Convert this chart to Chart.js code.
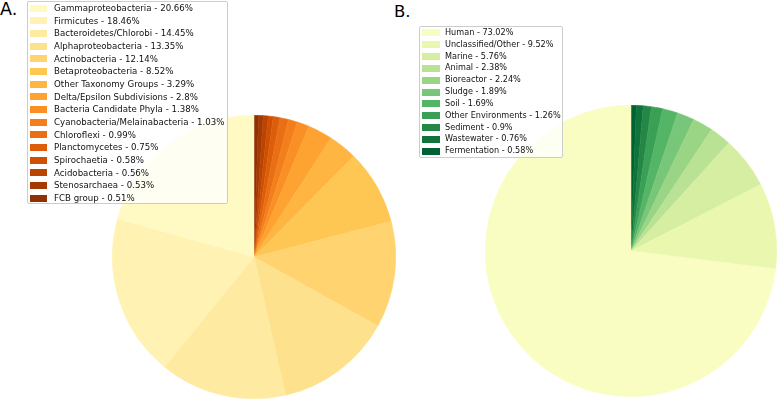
<!DOCTYPE html>
<html>
<head>
<meta charset="utf-8">
<script src="https://cdn.jsdelivr.net/npm/chart.js@4/dist/chart.umd.min.js"></script>
<style>
  html, body { margin: 0; padding: 0; background: #fff; }
  body { width: 778px; height: 399px; position: relative; overflow: hidden; font-family: "DejaVu Sans", sans-serif; }
  canvas { position: absolute; }
  #pieA { left: 112px; top: 115px; }
  #pieB { left: 485px; top: 105px; }
  .panel-label { position: absolute; font-size: 17.5px; color: #000; line-height: 1; }
  #labelA { left: 0px; top: 1px; }
  #labelB { left: 394px; top: 4px; font-size: 16.5px; }
  .legend { position: absolute; background: rgba(255,255,255,0.8); border: 1px solid #cccccc; border-radius: 2px; box-sizing: border-box; z-index: 2; }
  .legend .row { position: relative; white-space: nowrap; color: #111; }
  .legend .sw { position: absolute; top: 50%; }
  #legendA { left: 27px; top: 1px; width: 201px; height: 203px; padding-top: 0px; font-size: 8.65px; }
  #legendA .row { height: 12.67px; line-height: 12.67px; padding-left: 26px; }
  #legendA .sw { left: 2px; width: 17px; height: 7px; margin-top: -3.5px; }
  #legendB { left: 419px; top: 26px; width: 144px; height: 132px; padding-top: 0px; font-size: 8.15px; }
  #legendB .row { height: 11.84px; line-height: 11.84px; padding-left: 25px; }
  #legendB .sw { left: 2px; width: 18px; height: 7px; margin-top: -3.5px; }
</style>
</head>
<body>
<div id="labelA" class="panel-label">A.</div>
<div id="labelB" class="panel-label">B.</div>
<canvas id="pieA" width="284" height="284"></canvas>
<canvas id="pieB" width="292" height="292"></canvas>
<div id="legendA" class="legend"></div>
<div id="legendB" class="legend"></div>
<script>
// Panel A: taxonomy
const taxaLabels = ['Gammaproteobacteria', 'Firmicutes', 'Bacteroidetes/Chlorobi', 'Alphaproteobacteria',
  'Actinobacteria', 'Betaproteobacteria', 'Other Taxonomy Groups', 'Delta/Epsilon Subdivisions',
  'Bacteria Candidate Phyla', 'Cyanobacteria/Melainabacteria', 'Chloroflexi', 'Planctomycetes',
  'Spirochaetia', 'Acidobacteria', 'Stenosarchaea', 'FCB group'];
const taxaValues = [20.66, 18.46, 14.45, 13.35, 12.14, 8.52, 3.29, 2.8, 1.38, 1.03, 0.99, 0.75, 0.58, 0.56, 0.53, 0.51];

// Panel B: environment
const envLabels = ['Human', 'Unclassified/Other', 'Marine', 'Animal', 'Bioreactor', 'Sludge', 'Soil',
  'Other Environments', 'Sediment', 'Wastewater', 'Fermentation'];
const envValues = [73.02, 9.52, 5.76, 2.38, 2.24, 1.89, 1.69, 1.26, 0.9, 0.76, 0.58];

// colorbrewer ramps (same as matplotlib YlOrBr / YlGn)
const ylOrBr = ['#ffffe5', '#fff7bc', '#fee391', '#fec44f', '#fe9929', '#ec7014', '#cc4c02', '#993404', '#662506'];
const ylGn = ['#ffffe5', '#f7fcb9', '#d9f0a3', '#addd8e', '#78c679', '#41ab5d', '#238443', '#006837', '#004529'];

function hexToRgb(h) {
  return [parseInt(h.slice(1, 3), 16), parseInt(h.slice(3, 5), 16), parseInt(h.slice(5, 7), 16)];
}

function sampleRamp(ramp, t) {
  const pos = t * (ramp.length - 1);
  const i = Math.min(Math.floor(pos), ramp.length - 2);
  const f = pos - i;
  const a = hexToRgb(ramp[i]), b = hexToRgb(ramp[i + 1]);
  const c = a.map((v, k) => Math.round(v + (b[k] - v) * f));
  return `rgb(${c[0]}, ${c[1]}, ${c[2]})`;
}

function rampColors(ramp, n, t0, t1) {
  const out = [];
  for (let i = 0; i < n; i++) out.push(sampleRamp(ramp, t0 + (t1 - t0) * i / (n - 1)));
  return out;
}

const taxaColors = rampColors(ylOrBr, taxaLabels.length, 0.1, 0.9);
const envColors = rampColors(ylGn, envLabels.length, 0.1, 0.9);

// matplotlib drew these counter-clockwise from the top; Chart.js goes clockwise,
// so feed the slices in reverse order
function drawPie(id, labels, values, colors) {
  const ctx = document.getElementById(id).getContext('2d');
  new Chart(ctx, {
    type: 'pie',
    data: {
      labels: labels.slice().reverse(),
      datasets: [{
        data: values.slice().reverse(),
        backgroundColor: colors.slice().reverse(),
        borderColor: colors.slice().reverse(),
        borderWidth: 0.5
      }]
    },
    options: {
      responsive: false,
      animation: false,
      layout: { padding: 0 },
      plugins: { legend: { display: false }, tooltip: { enabled: false } }
    }
  });
}

function buildLegend(id, labels, values, colors) {
  const box = document.getElementById(id);
  let html = '';
  labels.forEach((lab, i) => {
    html += `<div class="row"><span class="sw" style="background:${colors[i]}"></span>${lab} - ${values[i]}%</div>`;
  });
  box.innerHTML = html;
}

drawPie('pieA', taxaLabels, taxaValues, taxaColors);
drawPie('pieB', envLabels, envValues, envColors);
buildLegend('legendA', taxaLabels, taxaValues, taxaColors);
buildLegend('legendB', envLabels, envValues, envColors);
</script>
</body>
</html>
